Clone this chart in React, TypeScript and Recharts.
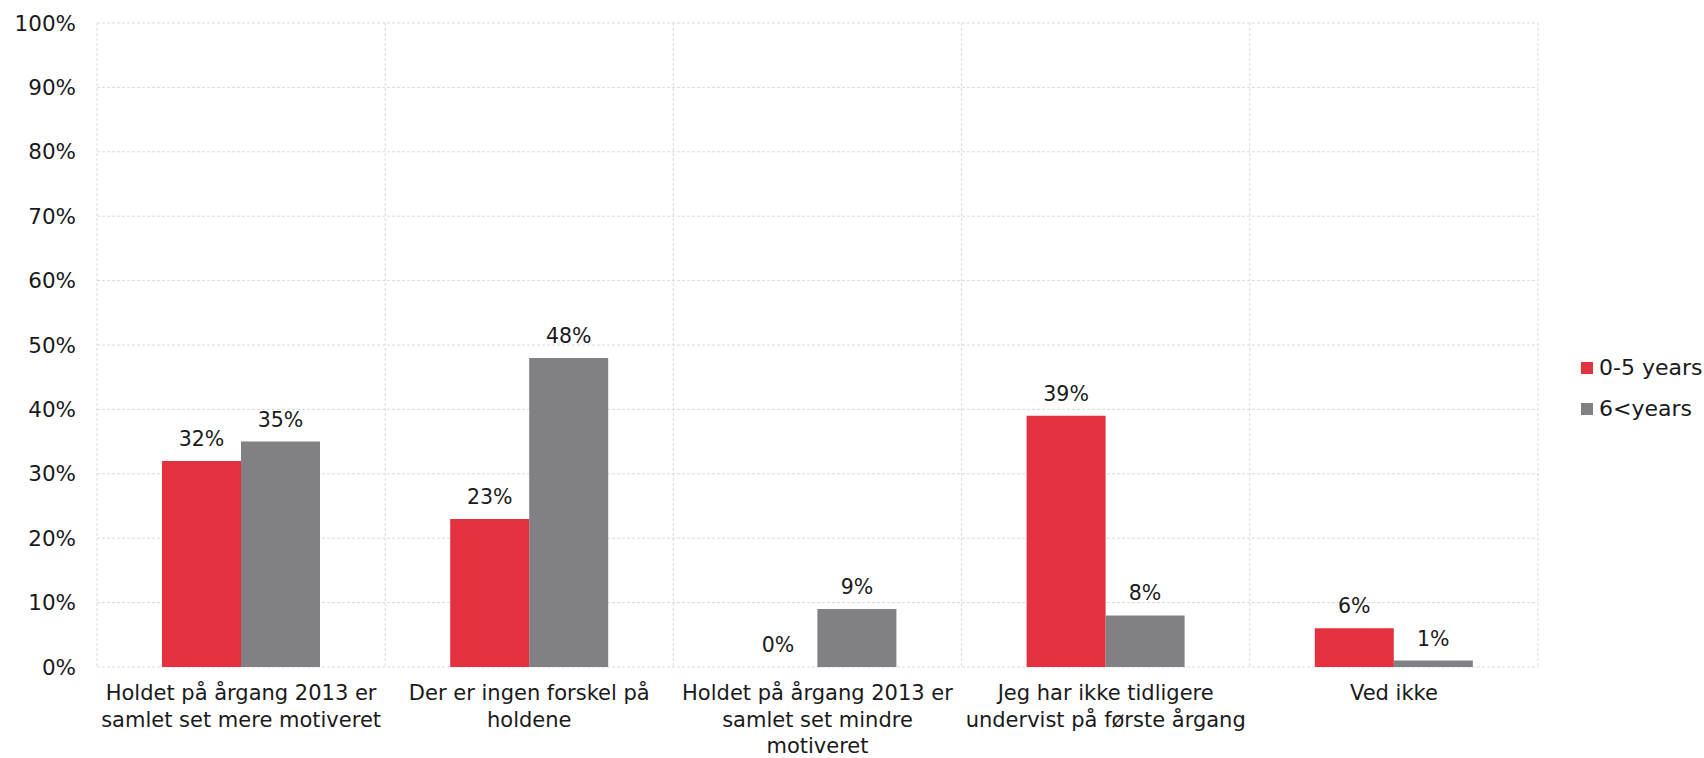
import React from 'react';
import { BarChart, Bar, XAxis, YAxis, CartesianGrid, Legend, LabelList } from 'recharts';

// answer categories and their wrapped tick labels
const categories = [
  'Holdet på årgang 2013 er samlet set mere motiveret',
  'Der er ingen forskel på holdene',
  'Holdet på årgang 2013 er samlet set mindre motiveret',
  'Jeg har ikke tidligere undervist på første årgang',
  'Ved ikke'
];
const tickLines = [
  ['Holdet på årgang 2013 er', 'samlet set mere motiveret'],
  ['Der er ingen forskel på', 'holdene'],
  ['Holdet på årgang 2013 er', 'samlet set mindre', 'motiveret'],
  ['Jeg har ikke tidligere', 'undervist på første årgang'],
  ['Ved ikke']
];
const youngValues = [32, 23, 0, 39, 6];
const seniorValues = [35, 48, 9, 8, 1];
const yTicks = [0, 10, 20, 30, 40, 50, 60, 70, 80, 90, 100];

const seriesNames = { young: '0-5 years', senior: '6<years' };
const RED = '#E3313F';
const GREY = '#818185';
const FONT = '"DejaVu Sans", Verdana, sans-serif';

const data = categories.map((name, i) => ({
  name,
  young: youngValues[i],
  senior: seniorValues[i]
}));

const CategoryTick = (props: any) => {
  const { x, y, payload } = props;
  const lines = tickLines[payload.index] || [payload.value];
  return (
    <text x={x} y={y} textAnchor="middle" fill="#1a1a1a" fontSize={21} fontFamily={FONT}>
      {lines.map((line, i) => (
        <tspan key={i} x={x} dy={i === 0 ? 33 : 26.5}>{line}</tspan>
      ))}
    </text>
  );
};

const LegendBox = () => (
  <div style={{ fontFamily: FONT, fontSize: 22, color: '#1a1a1a' }}>
    {[
      { label: seriesNames.young, color: RED },
      { label: seriesNames.senior, color: GREY }
    ].map(item => (
      <div key={item.label} style={{ display: 'flex', alignItems: 'center', height: 41, whiteSpace: 'nowrap' }}>
        <span style={{ display: 'inline-block', width: 12, height: 12, background: item.color, marginRight: 6 }} />
        <span>{item.label}</span>
      </div>
    ))}
  </div>
);

// keeps a zero bar in the layout so its "0%" label still gets drawn
const keepZero = (value: any) => (value === 0 ? 0.01 : 0);

const labelStyle = { fontSize: 20.5, fill: '#1a1a1a', fontFamily: FONT };

export default function App() {
  return (
    <div style={{ position: 'absolute', left: 0, top: 0, width: 1704, height: 758, background: '#fff' }}>
      <BarChart
        width={1704}
        height={758}
        data={data}
        margin={{ top: 23, right: 166, bottom: 0, left: 0 }}
        barSize={79}
        barGap={0}
      >
        <CartesianGrid
          stroke="#d9d9d9"
          strokeDasharray="3 2"
          verticalCoordinatesGenerator={({ offset }: any) =>
            categories.map((_, i) => offset.left + (offset.width * i) / categories.length).concat(offset.left + offset.width)
          }
        />
        <XAxis
          dataKey="name"
          height={91}
          axisLine={false}
          tickLine={false}
          tickSize={0}
          tickMargin={0}
          interval={0}
          tick={<CategoryTick />}
        />
        <YAxis
          width={97}
          domain={[0, 100]}
          ticks={yTicks}
          axisLine={false}
          tickLine={false}
          tickSize={0}
          tickMargin={21}
          tickFormatter={(v: number) => `${v}%`}
          tick={{ fontSize: 21.5, fill: '#1a1a1a', fontFamily: FONT }}
        />
        <Legend
          layout="vertical"
          align="center"
          verticalAlign="middle"
          content={<LegendBox />}
          wrapperStyle={{ left: 1581, top: 347, width: 123 }}
        />
        <Bar dataKey="young" name={seriesNames.young} fill={RED} minPointSize={keepZero} isAnimationActive={false}>
          <LabelList dataKey="young" position="top" offset={15} formatter={(v: any) => `${v}%`} style={labelStyle} />
        </Bar>
        <Bar dataKey="senior" name={seriesNames.senior} fill={GREY} isAnimationActive={false}>
          <LabelList dataKey="senior" position="top" offset={15} formatter={(v: any) => `${v}%`} style={labelStyle} />
        </Bar>
      </BarChart>
    </div>
  );
}
